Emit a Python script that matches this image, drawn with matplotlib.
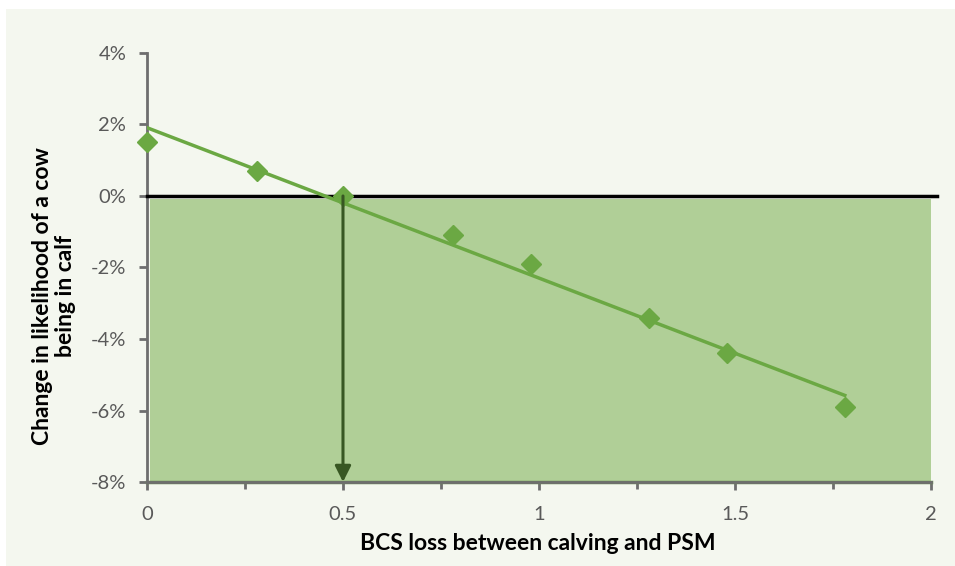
import numpy as np
import matplotlib.pyplot as plt
from matplotlib.patches import Rectangle
from matplotlib.ticker import FuncFormatter, MultipleLocator

# BCS loss vs change in likelihood of being in calf (%)
bcs_loss = [0.0, 0.28, 0.5, 0.78, 0.98, 1.28, 1.48, 1.78]
change_pct = [1.5, 0.7, 0.0, -1.1, -1.9, -3.4, -4.4, -5.9]

x_ticks = [0, 0.5, 1, 1.5, 2]
y_ticks = [-8, -6, -4, -2, 0, 2, 4]
threshold_x = 0.5

green = '#6BA843'
fill_green = '#B0CF97'
dark_green = '#385723'
bg = '#F4F7EF'
grey = '#6E6E6E'
label_grey = '#595959'

plt.rcParams['font.family'] = ['Lato', 'DejaVu Sans']

fig = plt.figure(figsize=(9.55, 5.66), dpi=100)
fig.patches.append(Rectangle((6 / 955, 0), 1, 1 - 9 / 566, transform=fig.transFigure,
                             facecolor=bg, edgecolor='none', zorder=-10))
ax = fig.add_axes([0.1539, 0.1484, 0.8210, 0.7580])
ax.set_facecolor('none')

ax.set_xlim(0, 2)
ax.set_ylim(-8, 4)

# shaded "not in calf" region
ax.add_patch(Rectangle((0.008, -8), 1.992, 7.92, facecolor=fill_green,
                       edgecolor='none', zorder=1))
ax.plot([0, 2], [-8, -8], color='#6A8F52', lw=2.5, zorder=2, clip_on=False)

# zero line
ax.plot([0, 2.015], [0, 0], color='black', lw=2.5, zorder=3, clip_on=False)

# linear trend
coef = np.polyfit(bcs_loss, change_pct, 1)
tx = np.array([bcs_loss[0], bcs_loss[-1]])
ax.plot(tx, np.polyval(coef, tx), color=green, lw=2.5, zorder=4)

ax.plot(bcs_loss, change_pct, linestyle='none', marker='D', markersize=10,
        color=green, zorder=5, clip_on=False)

# arrow down at 0.5
ax.annotate('', xy=(threshold_x, -8), xytext=(threshold_x, 0),
            arrowprops=dict(arrowstyle='-|>', color=dark_green, lw=2.2,
                            mutation_scale=24, shrinkA=0, shrinkB=0), zorder=6)

for s in ['top', 'right']:
    ax.spines[s].set_visible(False)
for s in ['left', 'bottom']:
    ax.spines[s].set_color(grey)
    ax.spines[s].set_linewidth(2)

ax.set_xticks(x_ticks)
ax.set_xticklabels(['0', '0.5', '1', '1.5', '2'])
ax.xaxis.set_minor_locator(MultipleLocator(0.25))
ax.set_yticks(y_ticks)
ax.yaxis.set_major_formatter(FuncFormatter(lambda v, p: f'{v:.0f}%'))
ax.tick_params(axis='both', which='major', direction='out', length=6, width=2,
               color=grey, labelcolor=label_grey, labelsize=14.5, pad=9)
ax.tick_params(axis='x', which='major', pad=11)
ax.tick_params(axis='x', which='minor', direction='out', length=5, width=2, color=grey)

fig.text(538 / 955, 1 - 543 / 566, 'BCS loss between calving and PSM',
         ha='center', va='center', fontsize=16.5, fontweight='bold')
fig.text(54 / 955, 1 - 296 / 566, 'Change in likelihood of a cow\nbeing in calf',
         ha='center', va='center', rotation=90, fontsize=16.5, fontweight='bold',
         linespacing=1.15)

fig.savefig('out.png', dpi=100)
